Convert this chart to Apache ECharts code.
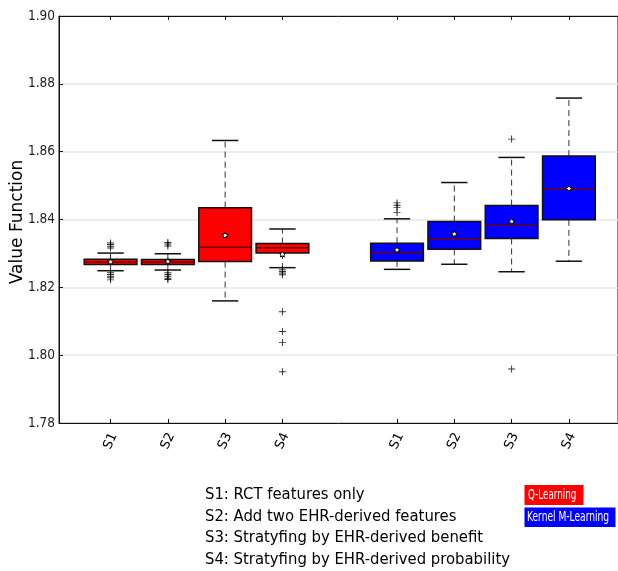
<!DOCTYPE html>
<html>
<head>
<meta charset="utf-8">
<script src="https://cdn.jsdelivr.net/npm/echarts@6/dist/echarts.min.js"></script>
<style>
  html, body { margin: 0; padding: 0; background: #fff; }
  #chart { width: 618px; height: 571px; }
</style>
</head>
<body>
<div id="chart"></div>
<script>
// Strategy labels on the x axis
const categories = ['S1', 'S2', 'S3', 'S4'];

// Box statistics per strategy: [lower whisker, Q1, median, Q3, upper whisker]
const qLearningBoxes = [
  [1.8249, 1.8267, 1.8275, 1.8283, 1.8301],
  [1.8251, 1.8267, 1.8275, 1.8282, 1.8299],
  [1.8160, 1.8276, 1.8318, 1.8435, 1.8633],
  [1.8258, 1.8301, 1.8317, 1.8329, 1.8372]
];
const qLearningMeans = [1.8275, 1.8276, 1.8353, 1.8297];
const qLearningOutliers = [
  [1.8331, 1.8326, 1.8321, 1.8316, 1.8243, 1.8238, 1.8233, 1.8228, 1.8222],
  [1.8332, 1.8328, 1.8322, 1.8243, 1.8238, 1.8233, 1.8227, 1.8223],
  [],
  [1.8252, 1.8247, 1.8242, 1.8237, 1.8128, 1.8070, 1.8037, 1.7951]
];

const kernelBoxes = [
  [1.8253, 1.8278, 1.8303, 1.8330, 1.8402],
  [1.8268, 1.8312, 1.8342, 1.8394, 1.8509],
  [1.8246, 1.8344, 1.8382, 1.8441, 1.8583],
  [1.8277, 1.8399, 1.8491, 1.8587, 1.8758]
];
const kernelMeans = [1.8310, 1.8357, 1.8394, 1.8491];
const kernelOutliers = [
  [1.8449, 1.8442, 1.8435, 1.8421],
  [],
  [1.8637, 1.7959],
  []
];

// Y axis ticks
const yTicks = [1.78, 1.80, 1.82, 1.84, 1.86, 1.88, 1.90];

// Strategy descriptions shown under the chart
const descriptions = [
  'S1: RCT features only',
  'S2: Add two EHR-derived features',
  'S3: Stratyfing by EHR-derived benefit',
  'S4: Stratyfing by EHR-derived probability'
];
const methodNames = ['Q-Learning', 'Kernel M-Learning'];

// Slot positions of the two groups along the x axis
const qSlots = [1, 2, 3, 4];
const kSlots = [6, 7, 8, 9];

function boxData(slots, boxes, means) {
  return boxes.map((b, i) => [slots[i]].concat(b).concat([means[i]]));
}
function outlierData(slots, outliers) {
  const out = [];
  outliers.forEach((list, i) => list.forEach(v => out.push([slots[i], v])));
  return out;
}

function starPoints(cx, cy, rOuter, rInner) {
  const pts = [];
  for (let k = 0; k < 10; k++) {
    const r = k % 2 === 0 ? rOuter : rInner;
    const a = -Math.PI / 2 + k * Math.PI / 5;
    pts.push([cx + r * Math.cos(a), cy + r * Math.sin(a)]);
  }
  return pts;
}

function boxRenderer(fill) {
  return function (params, api) {
    const x = api.value(0);
    const lo = api.coord([x, api.value(1)]);
    const q1 = api.coord([x, api.value(2)]);
    const med = api.coord([x, api.value(3)]);
    const q3 = api.coord([x, api.value(4)]);
    const hi = api.coord([x, api.value(5)]);
    const mean = api.coord([x, api.value(6)]);
    const bw = api.size([1, 0])[0] * 0.92;
    const cw = bw / 2;
    const cx = lo[0];
    const whiskerStyle = { stroke: '#333', lineWidth: 1, lineDash: [6, 4] };
    const capStyle = { stroke: '#111', lineWidth: 1.5 };
    return {
      type: 'group',
      children: [
        { type: 'line', shape: { x1: cx, y1: q3[1], x2: cx, y2: hi[1] }, style: whiskerStyle },
        { type: 'line', shape: { x1: cx, y1: q1[1], x2: cx, y2: lo[1] }, style: whiskerStyle },
        { type: 'line', shape: { x1: cx - cw / 2, y1: hi[1], x2: cx + cw / 2, y2: hi[1] }, style: capStyle },
        { type: 'line', shape: { x1: cx - cw / 2, y1: lo[1], x2: cx + cw / 2, y2: lo[1] }, style: capStyle },
        { type: 'rect', shape: { x: cx - bw / 2, y: q3[1], width: bw, height: q1[1] - q3[1] },
          style: { fill: fill, stroke: '#111', lineWidth: 1.5 } },
        { type: 'line', shape: { x1: cx - bw / 2, y1: med[1], x2: cx + bw / 2, y2: med[1] },
          style: { stroke: '#6b0000', lineWidth: 1.5 } },
        { type: 'polygon', shape: { points: starPoints(cx, mean[1], 3.2, 1.6) },
          style: { fill: '#fff', stroke: '#000', lineWidth: 1 } }
      ]
    };
  };
}

const plusSymbol = 'path://M-0.7,-5 L0.7,-5 L0.7,-0.7 L5,-0.7 L5,0.7 L0.7,0.7 L0.7,5 L-0.7,5 L-0.7,0.7 L-5,0.7 L-5,-0.7 L-0.7,-0.7 Z';

const chart = echarts.init(document.getElementById('chart'), null, { renderer: 'canvas' });

const labelFont = '"DejaVu Sans Condensed", "DejaVu Sans", sans-serif';
const allSlots = qSlots.concat(kSlots);
const slotLabel = v => {
  const i = qSlots.indexOf(v) >= 0 ? qSlots.indexOf(v) : kSlots.indexOf(v);
  return i >= 0 ? categories[i] : '';
};

const graphics = [];
descriptions.forEach((t, i) => {
  graphics.push({
    type: 'text', left: 205, top: 486 + i * 21.8,
    style: { text: t, font: '16.5px ' + labelFont, fill: '#000' }
  });
});
graphics.push(
  { type: 'rect', shape: { x: 524.5, y: 485, width: 59, height: 20 }, style: { fill: '#ff0000' } },
  { type: 'rect', shape: { x: 524.5, y: 507.5, width: 91, height: 19.5 }, style: { fill: '#0000ff' } },
  { type: 'text', x: 528, y: 495, scaleX: 0.72,
    style: { text: methodNames[0], font: '13.5px ' + labelFont, fill: '#fff', verticalAlign: 'middle' } },
  { type: 'text', x: 527, y: 517.5, scaleX: 0.75,
    style: { text: methodNames[1], font: '13.5px ' + labelFont, fill: '#fff', verticalAlign: 'middle' } },
  { type: 'text', x: 18, y: 222, rotation: Math.PI / 2,
    style: { text: 'Value Function', font: '17px "DejaVu Sans", sans-serif', fill: '#000',
             align: 'center', verticalAlign: 'middle' } }
);

chart.setOption({
  animation: false,
  backgroundColor: '#fff',
  grid: { left: 59, right: -3, top: 16, bottom: 148, show: true, borderColor: '#111', borderWidth: 1,
          backgroundColor: '#fff' },
  xAxis: [{
    type: 'value', min: 0.1, max: 9.857, position: 'bottom',
    splitLine: { show: false },
    axisLine: { show: true, onZero: false, lineStyle: { color: '#111', width: 1 } },
    axisTick: { show: true, inside: true, length: 4, customValues: allSlots, lineStyle: { color: '#111' } },
    axisLabel: {
      customValues: allSlots, formatter: v => slotLabel(v), rotate: 65, margin: 18,
      align: 'center', verticalAlign: 'middle',
      fontFamily: '"DejaVu Sans", sans-serif', fontSize: 13, color: '#000'
    }
  }, {
    type: 'value', min: 0.1, max: 9.857, position: 'top',
    splitLine: { show: false },
    axisLine: { show: true, onZero: false, lineStyle: { color: '#111', width: 1 } },
    axisTick: { show: true, inside: true, length: 4, customValues: allSlots, lineStyle: { color: '#111' } },
    axisLabel: { show: false }
  }],
  yAxis: {
    type: 'value', min: yTicks[0], max: yTicks[yTicks.length - 1], interval: 0.02,
    axisLine: { show: true, lineStyle: { color: '#111', width: 1 } },
    axisTick: { show: true, inside: true, length: 4, lineStyle: { color: '#111' } },
    splitLine: { show: true, lineStyle: { color: '#e6e6e6', width: 1.5 } },
    axisLabel: { formatter: v => v.toFixed(2), fontFamily: labelFont, fontSize: 13.5, color: '#222', margin: 4 }
  },
  graphic: graphics,
  series: [
    {
      type: 'custom', name: methodNames[0], renderItem: boxRenderer('#ff0000'),
      data: boxData(qSlots, qLearningBoxes, qLearningMeans),
      encode: { x: 0, y: [1, 2, 3, 4, 5] }, z: 2
    },
    {
      type: 'custom', name: methodNames[1], renderItem: boxRenderer('#0000ff'),
      data: boxData(kSlots, kernelBoxes, kernelMeans),
      encode: { x: 0, y: [1, 2, 3, 4, 5] }, z: 2
    },
    {
      type: 'scatter', symbol: plusSymbol, symbolSize: 7,
      itemStyle: { color: '#000' }, z: 3,
      data: outlierData(qSlots, qLearningOutliers).concat(outlierData(kSlots, kernelOutliers))
    }
  ]
});
</script>
</body>
</html>
